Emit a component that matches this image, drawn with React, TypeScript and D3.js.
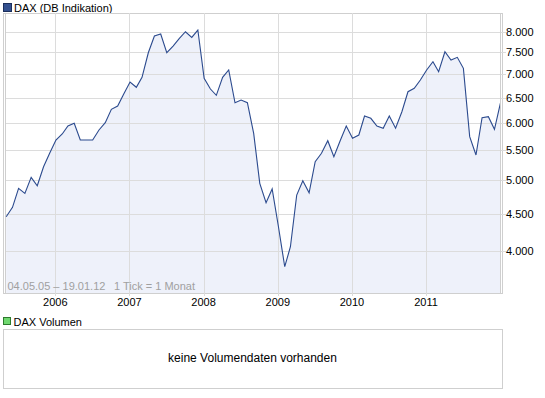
import React from "react";
import * as d3 from "d3";

// monthly points, first one on 04.05.05
const months = [
  "2005-05", "2005-06", "2005-07", "2005-08", "2005-09", "2005-10", "2005-11", "2005-12",
  "2006-01", "2006-02", "2006-03", "2006-04", "2006-05", "2006-06", "2006-07", "2006-08", "2006-09", "2006-10", "2006-11", "2006-12",
  "2007-01", "2007-02", "2007-03", "2007-04", "2007-05", "2007-06", "2007-07", "2007-08", "2007-09", "2007-10", "2007-11", "2007-12",
  "2008-01", "2008-02", "2008-03", "2008-04", "2008-05", "2008-06", "2008-07", "2008-08", "2008-09", "2008-10", "2008-11", "2008-12",
  "2009-01", "2009-02", "2009-03", "2009-04", "2009-05", "2009-06", "2009-07", "2009-08", "2009-09", "2009-10", "2009-11", "2009-12",
  "2010-01", "2010-02", "2010-03", "2010-04", "2010-05", "2010-06", "2010-07", "2010-08", "2010-09", "2010-10", "2010-11", "2010-12",
  "2011-01", "2011-02", "2011-03", "2011-04", "2011-05", "2011-06", "2011-07", "2011-08", "2011-09", "2011-10", "2011-11", "2011-12",
  "2012-01",
];

const daxValues = [
  4457, 4592, 4877, 4800, 5050, 4917, 5222, 5450,
  5684, 5793, 5941, 5992, 5684, 5684, 5684, 5867, 6004, 6264, 6330, 6575,
  6830, 6717, 6933, 7494, 7902, 7952, 7494, 7655, 7844, 8010, 7869, 8053,
  6910, 6680, 6548, 6933, 7095, 6396, 6451, 6396, 5805, 4955, 4659, 4866,
  4318, 3804, 4053, 4774, 4996, 4809, 5306, 5450, 5671, 5391, 5671, 5941,
  5714, 5774, 6132, 6088, 5941, 5899, 6132, 5899, 6216, 6623, 6695, 6873,
  7095, 7284, 7057, 7518, 7323, 7386, 7133, 5744, 5420, 6100, 6119, 5879,
  6417,
];

const yTicks = [4000, 4500, 5000, 5500, 6000, 6500, 7000, 7500, 8000];
const yearTicks = ["2006", "2007", "2008", "2009", "2010", "2011"];
const rangeStart = "2005-05-04";
const rangeEnd = "2012-01-19";

const W = 545;
const H = 398;
const plot = { left: 3, right: 503, top: 13, bottom: 293, innerLeft: 5, innerRight: 500 };
const font = "'Liberation Sans', Arial, sans-serif";

const parseDay = d3.timeParse("%Y-%m-%d");
const fmt = d3.format(",");
const deNum = (v: number) => fmt(v).replace(/,/g, ".");

export default function App() {
  const data = months.map((m, i) => ({ date: parseDay(m + "-04") as Date, value: daxValues[i] }));

  const x = d3
    .scaleTime()
    .domain([parseDay(rangeStart) as Date, parseDay(rangeEnd) as Date])
    .range([6.2, 503.8]);

  const y = d3.scaleLog().domain([3500, 8500]).range([plot.bottom, plot.top]);

  const line = d3
    .line<{ date: Date; value: number }>()
    .x((d) => x(d.date))
    .y((d) => y(d.value));

  const area = d3
    .area<{ date: Date; value: number }>()
    .x((d) => x(d.date))
    .y0(plot.bottom)
    .y1((d) => y(d.value));

  const grid = "#dcdcdc";
  const border = "#cfcfcf";

  return (
    <svg
      width={W}
      height={H}
      style={{ position: "absolute", left: 0, top: 0, background: "#fff" }}
      fontFamily={font}
    >
      <defs>
        <clipPath id="plotclip">
          <rect x={plot.innerLeft} y={plot.top} width={plot.innerRight - plot.innerLeft} height={plot.bottom - plot.top} />
        </clipPath>
      </defs>

      {/* legend top */}
      <rect x={3.5} y={3.5} width={8} height={8} fill="#33508f" stroke="#1c2f5c" />
      <text x={14} y={11.5} fontSize={11} fill="#000">DAX (DB Indikation)</text>

      {/* plot frame */}
      <rect x={plot.left + 0.5} y={plot.top + 0.5} width={plot.right - plot.left - 1} height={plot.bottom - plot.top} fill="#fff" stroke={border} />

      <g clipPath="url(#plotclip)">
        <path d={area(data) ?? ""} fill="#eef1fa" />
      </g>

      {/* grid */}
      {yTicks.map((t) => (
        <line key={t} x1={plot.innerLeft} x2={plot.right + 3} y1={Math.round(y(t)) + 0.5} y2={Math.round(y(t)) + 0.5} stroke={grid} />
      ))}
      {yearTicks.map((yr) => {
        const xx = Math.round(x(parseDay(yr + "-01-01") as Date)) + 0.5;
        return <line key={yr} x1={xx} x2={xx} y1={plot.top} y2={plot.bottom + 3} stroke={grid} />;
      })}
      <line x1={plot.innerLeft + 0.5} x2={plot.innerLeft + 0.5} y1={plot.top} y2={plot.bottom} stroke={border} />
      <line x1={plot.innerRight + 0.5} x2={plot.innerRight + 0.5} y1={plot.top} y2={plot.bottom} stroke={border} />

      <g clipPath="url(#plotclip)">
        <path d={line(data) ?? ""} fill="none" stroke="#2b4a8e" strokeWidth={1.1} />
      </g>

      {/* y labels */}
      {yTicks.map((t) => (
        <text key={t} x={506} y={y(t) + 4} fontSize={11} fill="#000">{deNum(t)}</text>
      ))}
      {/* x labels */}
      {yearTicks.map((yr) => (
        <text key={yr} x={x(parseDay(yr + "-01-01") as Date)} y={306} fontSize={11} textAnchor="middle" fill="#000">{yr}</text>
      ))}

      <text x={7.5} y={289.5} fontSize={11} fill="#a0a0a0">04.05.05 – 19.01.12</text>
      <text x={114} y={289.5} fontSize={11} fill="#a0a0a0">1 Tick = 1 Monat</text>

      {/* volume panel */}
      <rect x={3.5} y={317.5} width={7} height={7} fill="#6fd86f" stroke="#2d7a2d" />
      <text x={13.5} y={325.5} fontSize={11} fill="#000">DAX Volumen</text>
      <rect x={3.5} y={329.5} width={499} height={59} fill="#fff" stroke={border} />
      <text x={252.5} y={362} fontSize={12} textAnchor="middle" fill="#000">keine Volumendaten vorhanden</text>
    </svg>
  );
}
